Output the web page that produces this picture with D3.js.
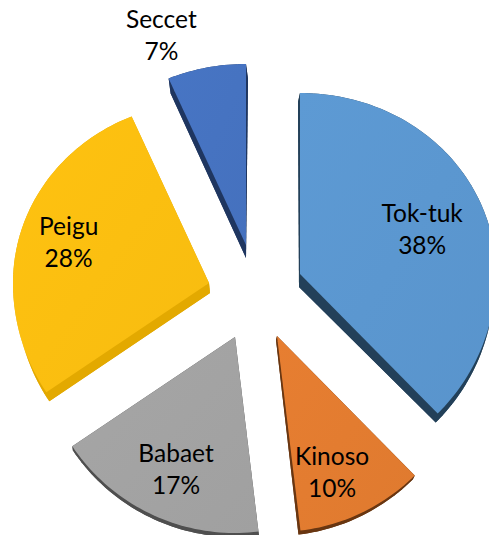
<!DOCTYPE html>
<html>
<head>
<meta charset="utf-8">
<script src="https://cdn.jsdelivr.net/npm/d3@7"></script>
<style>
html, body { margin: 0; padding: 0; background: #fff; overflow: hidden; }
text { font-family: Lato, "Open Sans", sans-serif; font-size: 24.5px; fill: #000; text-anchor: middle; }
</style>
</head>
<body>
<script>
var categories = ["Tok-tuk", "Kinoso", "Babaet", "Peigu", "Seccet"];
var shares = [37.6, 10.49, 17.49, 27.5, 6.92];

var faceColors = ["#5b97d0", "#e37c30", "#a3a3a3", "#fbbf10", "#4673c1"];
var sideColors = ["#234059", "#693611", "#4f4f4f", "#e3a900", "#1f3660"];

// how far each slice is pulled out of the pie, and how deep its side looks
var explode = [[44, -17], [21, 45], [-21, 46], [-47, -8], [-10, -46]];
var depthApex = [[-1, 13], [-1, 4], [0.5, 4], [1, 10], [0, 13]];
var depthRim = [[-2, 9], [-2, 4], [0.5, 4], [3, 9], [2, 15]];
var labelShift = [[70, 130], [158, 147], [204, 145], [286, 146], [338, 226]];

var width = 489,
    height = 535,
    cx = 256,
    cy = 291;

var svg = d3.select("body").append("svg")
    .attr("width", width)
    .attr("height", height);

var defs = svg.append("defs");

var pie = d3.pie().sort(null).value(d => d);
var slices = pie(shares);

// the chart is tilted so the far rim sits a bit closer than the near one
const rimRadius = a => {
    var c = Math.max(0, Math.cos(a));
    return 196 - 15 * c * c;
};

const outline = d => {
    var n = Math.ceil((d.endAngle - d.startAngle) * 40);
    var angles = d3.range(n + 1).map(i => d.startAngle + (d.endAngle - d.startAngle) * i / n);
    var pts = angles.map(a => d3.pointRadial(a, rimRadius(a)));
    return [[0, 0]].concat(pts);
};

// back of the slice: the offset changes a little from apex to rim
const backOutline = d => outline(d).map((p, j) => {
    var t = j === 0 ? 0 : 1,
        dx = depthApex[d.index][0] + (depthRim[d.index][0] - depthApex[d.index][0]) * t,
        dy = depthApex[d.index][1] + (depthRim[d.index][1] - depthApex[d.index][1]) * t;
    return [p[0] + dx, p[1] + dy];
});

const sideQuads = d => {
    var o = outline(d), back = backOutline(d);
    return o.map((p, j) => {
        var k = (j + 1) % o.length;
        return [p, o[k], back[k], back[j]];
    });
};

var line = d3.line().curve(d3.curveLinearClosed);

var node = svg.selectAll(".slice")
    .data(slices)
    .enter().append("g")
    .attr("class", "slice")
    .attr("transform", (d, i) => "translate(" + (cx + explode[i][0]) + "," + (cy + explode[i][1]) + ")");

faceColors.forEach((c, i) => {
    var g = defs.append("linearGradient")
        .attr("id", "face" + i)
        .attr("x1", 0).attr("y1", 0).attr("x2", 1).attr("y2", 1);
    g.append("stop").attr("offset", 0).attr("stop-color", d3.color(c).brighter(0.05));
    g.append("stop").attr("offset", 1).attr("stop-color", d3.color(c).darker(0.05));
});

node.append("path")
    .attr("d", d => line(backOutline(d)))
    .style("fill", d => sideColors[d.index]);

node.selectAll(".side")
    .data(d => sideQuads(d).map(q => ({ quad: q, index: d.index })))
    .enter().append("path")
    .attr("class", "side")
    .attr("d", d => line(d.quad))
    .style("fill", d => sideColors[d.index]);

node.append("path")
    .attr("d", d => line(outline(d)))
    .style("fill", d => "url(#face" + d.index + ")");

var label = node.append("text")
    .attr("transform", d => {
        var p = d3.pointRadial(labelShift[d.index][0] * Math.PI / 180, labelShift[d.index][1]);
        return "translate(" + p[0] + "," + p[1] + ")";
    });

label.append("tspan")
    .attr("x", 0)
    .attr("dy", "-0.3em")
    .text(d => categories[d.index]);

label.append("tspan")
    .attr("x", 0)
    .attr("dy", "32px")
    .text(d => Math.round(d.value) + "%");
</script>
</body>
</html>
